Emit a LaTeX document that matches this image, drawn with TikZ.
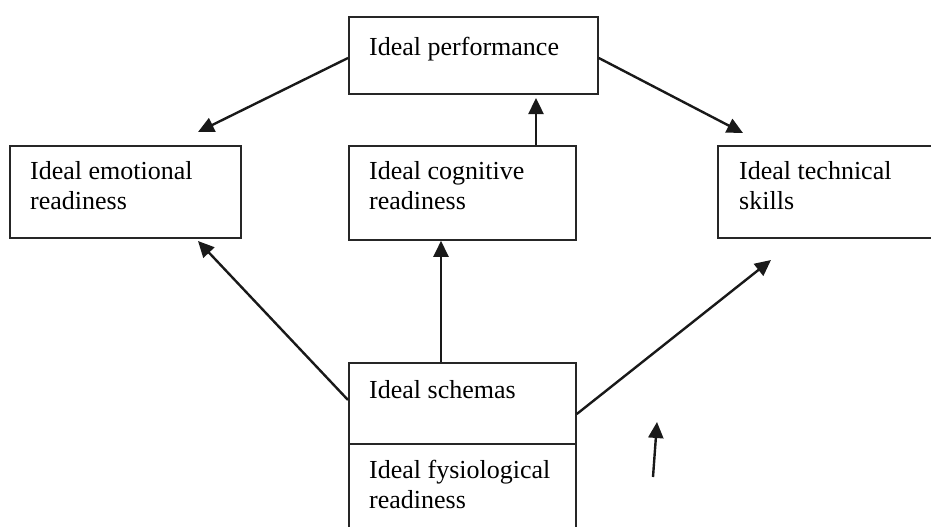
\documentclass[tikz,border=0pt]{standalone}
\usepackage{fontspec}
\setmainfont{Liberation Serif}
\usetikzlibrary{arrows.meta}

\tikzset{
  box/.style={draw=black!85, line width=1.8pt, inner sep=0pt, anchor=north west},
  txt/.style={anchor=north west, align=left, inner sep=0pt, font=\fontsize{26}{30}\selectfont},
  arr/.style={black!90, line width=2.4pt, -{Triangle[length=16pt,width=15pt]}}
}

\begin{document}
\begin{tikzpicture}[x=1pt,y=-1pt]
\clip (0,0) rectangle (931,527);
% boxes
\node[box, minimum width=249pt, minimum height=77pt](perf)at(348,16){};
\node[box, minimum width=231pt, minimum height=92pt](emo)at(9,145){};
\node[box, minimum width=227pt, minimum height=94pt](cog)at(348,145){};
\node[box, minimum width=240pt, minimum height=92pt](tech)at(717,145){};
\node[box, minimum width=227pt, minimum height=81pt](schem)at(348,362){};
\node[box, minimum width=227pt, minimum height=110pt](fys)at(348,443){};
% texts
\node[txt](tperf)at(369,36.5){Ideal performance};
\node[txt](temo)at(30,161.5){Ideal emotional\\readiness};
\node[txt](tcog)at(369,161.5){Ideal cognitive\\readiness};
\node[txt](ttech)at(739,161.5){Ideal technical\\skills};
\node[txt](tschem)at(369,380.5){Ideal schemas};
\node[txt](tfys)at(369,459.5){Ideal fysiological\\readiness};
% arrow ends
\coordinate(Ae)at(198,132);
\coordinate(At)at(743,133);
\coordinate(Ap)at(536,98);
\coordinate(Be)at(198,241);
\coordinate(Bt)at(771,260);
\coordinate(Fa)at(653,477);
\coordinate(Fb)at(657,422);
% arrows
\draw[arr](perf.west|-0,58)--(Ae);
\draw[arr](perf.east|-0,58)--(At);
\draw[arr](cog.north-|Ap)--(Ap);
\draw[arr](schem.west|-0,400)--(Be);
\draw[arr](schem.north-|441,0)--(cog.south-|441,0);
\draw[arr](schem.east|-0,414)--(Bt);
\draw[arr](Fa)--(Fb);
\end{tikzpicture}
\end{document}
